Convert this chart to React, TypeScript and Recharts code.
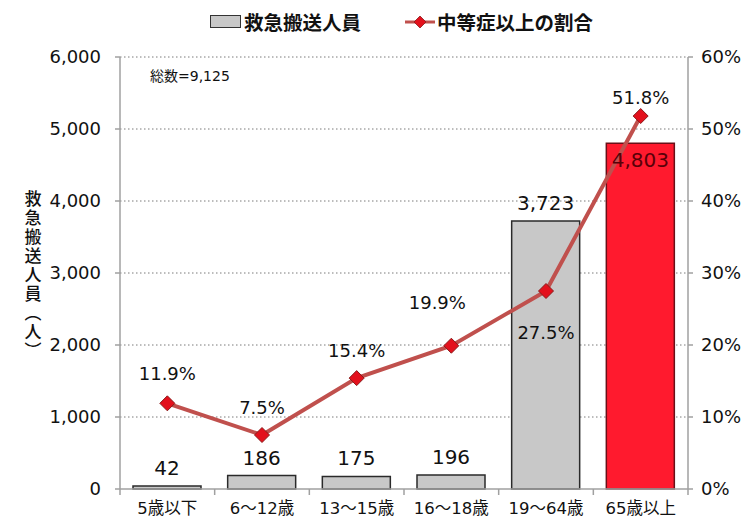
import React from "react";
import { ComposedChart, Bar, Line, XAxis, YAxis, CartesianGrid, Cell, LabelList } from "recharts";

const categories = ["5歳以下", "6～12歳", "13～15歳", "16～18歳", "19～64歳", "65歳以上"];
const transported = [42, 186, 175, 196, 3723, 4803];
const severeRatio = [11.9, 7.5, 15.4, 19.9, 27.5, 51.8];
const leftTicks = [0, 1000, 2000, 3000, 4000, 5000, 6000];
const rightTicks = [0, 10, 20, 30, 40, 50, 60];

// label placement for the ratio labels: [dx, dy] from the point
const ratioLabelShift: [number, number][] = [
  [0, -30], [0, -28], [0, -28], [-14, -43], [0, 41], [0, -19],
];

const FONT = "'DejaVu Sans', 'Noto Sans CJK JP', sans-serif";
const LINE_COLOR = "#C0504D";
const BAND = 568 / 6;

const chartData = categories.map((name, i) => ({
  name,
  count: transported[i],
  ratio: severeRatio[i],
}));

const fmt = (v: number) => new Intl.NumberFormat("en-US").format(v);

function Diamond(props: any) {
  const { cx, cy } = props;
  if (cx == null || cy == null) return null;
  const r = 7.5;
  return (
    <path
      d={`M${cx},${cy - r} L${cx + r},${cy} L${cx},${cy + r} L${cx - r},${cy} Z`}
      fill="#E3101C"
      stroke="#8A1A1A"
      strokeWidth={1}
    />
  );
}

function XTick(props: any) {
  const { x, y, payload, index } = props;
  const left = x - BAND / 2;
  return (
    <g>
      <line x1={left} y1={y - 8} x2={left} y2={y - 2} stroke="#A0A0A0" strokeWidth={1.5} />
      {index === categories.length - 1 && (
        <line x1={x + BAND / 2} y1={y - 8} x2={x + BAND / 2} y2={y - 2} stroke="#A0A0A0" strokeWidth={1.5} />
      )}
      <text x={x} y={y + 17} textAnchor="middle" fontSize={16.5} fontFamily={FONT} fill="#111">
        {payload.value}
      </text>
    </g>
  );
}

function CountLabel(props: any) {
  const { x, y, width, value, index } = props;
  const last = index === transported.length - 1;
  return (
    <text
      x={x + width / 2}
      y={last ? y + 17 : y - 18}
      textAnchor="middle"
      dominantBaseline="central"
      fontSize={20}
      fontFamily={FONT}
      fill={last ? "#5A0008" : "#111"}
    >
      {fmt(value)}
    </text>
  );
}

function RatioLabel(props: any) {
  const { x, y, value, index } = props;
  const [dx, dy] = ratioLabelShift[index];
  return (
    <text
      x={x + dx}
      y={y + dy}
      textAnchor="middle"
      dominantBaseline="central"
      fontSize={18}
      fontFamily={FONT}
      fill="#111"
    >
      {value.toFixed(1)}%
    </text>
  );
}

function LegendRow() {
  return (
    <div
      style={{
        position: "absolute",
        top: 7,
        left: 0,
        width: 753,
        display: "flex",
        justifyContent: "center",
        alignItems: "center",
        fontFamily: "'Noto Sans CJK JP', sans-serif",
        fontSize: 19.5,
        fontWeight: "bold",
        color: "#111",
        paddingLeft: 50,
        boxSizing: "border-box",
      }}
    >
      <span style={{ display: "inline-block", width: 29, height: 11, background: "#C8C8C8", border: "1.5px solid #333", marginRight: 3 }} />
      <span style={{ marginRight: 44 }}>救急搬送人員</span>
      <svg width={30} height={14} style={{ marginRight: 2 }}>
        <line x1={0} y1={7} x2={30} y2={7} stroke={LINE_COLOR} strokeWidth={3} />
        <path d="M15,1 L21,7 L15,13 L9,7 Z" fill="#E3101C" stroke="#8A1A1A" strokeWidth={0.8} />
      </svg>
      <span>中等症以上の割合</span>
    </div>
  );
}

export default function App() {
  return (
    <div style={{ position: "absolute", left: 0, top: 0, width: 753, height: 530, background: "#fff" }}>
      <LegendRow />
      <ComposedChart
        width={753}
        height={530}
        data={chartData}
        margin={{ top: 57, right: 0, bottom: 0, left: 0 }}
        barCategoryGap={0}
      >
        <CartesianGrid vertical={false} stroke="#7A7A7A" strokeDasharray="1.5 2.5" horizontalValues={[1000, 2000, 3000, 4000, 5000, 6000]} yAxisId="left" />
        <XAxis
          dataKey="name"
          height={41}
          axisLine={{ stroke: "#A0A0A0", strokeWidth: 1.5 }}
          tickLine={false}
          tick={<XTick />}
          interval={0}
        />
        <YAxis
          yAxisId="left"
          width={120}
          domain={[0, 6000]}
          ticks={leftTicks}
          tickFormatter={fmt}
          axisLine={{ stroke: "#A0A0A0", strokeWidth: 1.5 }}
          tickLine={{ stroke: "#A0A0A0", strokeWidth: 1.5 }}
          tickSize={5}
          tickMargin={14}
          tick={{ fontSize: 18, fontFamily: FONT, fill: "#111" }}
          label={{
            value: "救急搬送人員(人)",
            position: "insideLeft",
            offset: 0,
            content: () => (
              <text
                x={33}
                y={276}
                textAnchor="middle"
                fontSize={17}
                fontWeight={500}
                letterSpacing={2}
                fontFamily="'Noto Sans CJK JP', sans-serif"
                fill="#111"
                style={{ writingMode: "vertical-rl" }}
              >
                救急搬送人員（人）
              </text>
            ),
          }}
        />
        <YAxis
          yAxisId="right"
          orientation="right"
          width={65}
          domain={[0, 60]}
          ticks={rightTicks}
          tickFormatter={(v: number) => `${v}%`}
          axisLine={{ stroke: "#A0A0A0", strokeWidth: 1.5 }}
          tickLine={{ stroke: "#A0A0A0", strokeWidth: 1.5 }}
          tickSize={5}
          tickMargin={8}
          tick={{ fontSize: 18, fontFamily: FONT, fill: "#111", textAnchor: "start" }}
        />
        <Bar yAxisId="left" dataKey="count" barSize={68} stroke="#2A2A2A" strokeWidth={1.5} isAnimationActive={false}>
          {chartData.map((d, i) => (
            <Cell key={d.name} fill={i === chartData.length - 1 ? "#FF1A2E" : "#C8C8C8"} stroke={i === chartData.length - 1 ? "#6A1018" : "#2A2A2A"} />
          ))}
          <LabelList dataKey="count" content={<CountLabel />} />
        </Bar>
        <Line
          yAxisId="right"
          dataKey="ratio"
          type="linear"
          stroke={LINE_COLOR}
          strokeWidth={4}
          dot={<Diamond />}
          activeDot={false}
          isAnimationActive={false}
        >
          <LabelList dataKey="ratio" content={<RatioLabel />} />
        </Line>
        <text x={150} y={81} fontSize={14} fontFamily={FONT} fill="#111">総数=9,125</text>
      </ComposedChart>
    </div>
  );
}
